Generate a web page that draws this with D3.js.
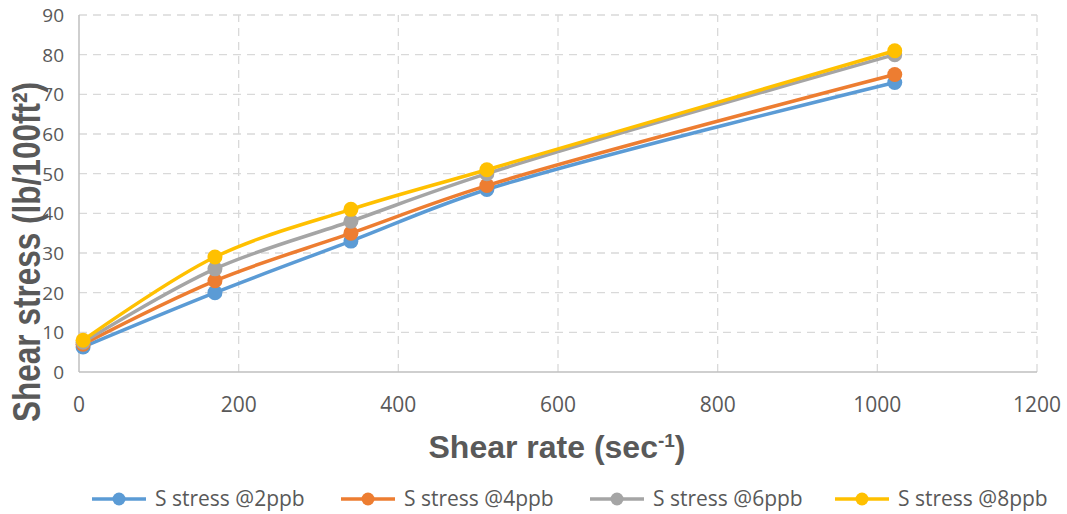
<!DOCTYPE html>
<html>
<head>
<meta charset="utf-8">
<script src="https://cdn.jsdelivr.net/npm/d3@7"></script>
<style>
  body { margin: 0; background: #fff; }
  svg text { fill: #595959; }
</style>
</head>
<body>
<div id="chart"></div>
<script>
// shear rates (sec-1) at 3, 100, 200, 300, 600 rpm
const shearRates = [5.11, 170.3, 340.6, 510.9, 1021.8];
const seriesNames = ["S stress @2ppb", "S stress @4ppb", "S stress @6ppb", "S stress @8ppb"];
const stress2ppb = [6.3, 20, 33, 46, 73];
const stress4ppb = [7, 23, 35, 47, 75];
const stress6ppb = [7.5, 26, 38, 50, 80];
const stress8ppb = [8, 29, 41, 51, 81];
const seriesColors = ["#5B9BD5", "#ED7D31", "#A5A5A5", "#FFC000"];
const xTicks = [0, 200, 400, 600, 800, 1000, 1200];
const yTicks = [0, 10, 20, 30, 40, 50, 60, 70, 80, 90];

const allSeries = [stress2ppb, stress4ppb, stress6ppb, stress8ppb];

const width = 1067, height = 514;
const margin = {left: 79, right: 30, top: 15, bottom: 142};

const svg = d3.select("#chart").append("svg")
    .attr("width", width)
    .attr("height", height);

const x = d3.scaleLinear().domain([0, 1200]).range([margin.left, width - margin.right]);
const y = d3.scaleLinear().domain([0, 90]).range([height - margin.bottom, margin.top]);

// gridlines
const grid = svg.append("g").attr("class", "grid");
grid.selectAll("line.h")
    .data(yTicks.filter(d => d > 0))
    .enter().append("line")
    .attr("x1", x(0)).attr("x2", x(1200))
    .attr("y1", d => y(d)).attr("y2", d => y(d))
    .attr("stroke", "#d9d9d9").attr("stroke-width", 1.3)
    .attr("stroke-dasharray", "8,6");
grid.selectAll("line.v")
    .data(xTicks.filter(d => d > 0))
    .enter().append("line")
    .attr("x1", d => x(d)).attr("x2", d => x(d))
    .attr("y1", y(0)).attr("y2", y(90))
    .attr("stroke", "#d9d9d9").attr("stroke-width", 1.3)
    .attr("stroke-dasharray", "8,6");

// axis lines
svg.append("line")
    .attr("x1", x(0)).attr("x2", x(0)).attr("y1", y(0)).attr("y2", y(90))
    .attr("stroke", "#bfbfbf").attr("stroke-width", 1.5);
svg.append("line")
    .attr("x1", x(0)).attr("x2", x(1200)).attr("y1", y(0)).attr("y2", y(0))
    .attr("stroke", "#bfbfbf").attr("stroke-width", 1.5);

// tick labels
svg.append("g").selectAll("text")
    .data(yTicks)
    .enter().append("text")
    .attr("x", x(0) - 15)
    .attr("y", d => y(d))
    .attr("dy", "0.36em")
    .attr("text-anchor", "end")
    .style("font-family", "'Open Sans', sans-serif")
    .style("font-size", "19px")
    .text(d => d);

svg.append("g").selectAll("text")
    .data(xTicks)
    .enter().append("text")
    .attr("x", d => x(d))
    .attr("y", y(0) + 40)
    .attr("text-anchor", "middle")
    .style("font-family", "'Open Sans', sans-serif")
    .style("font-size", "21px")
    .text(d => d);

// axis titles
const xTitle = svg.append("text")
    .attr("x", 557)
    .attr("y", 458)
    .attr("text-anchor", "middle")
    .style("font-family", "'Liberation Sans', Arial, sans-serif")
    .style("font-weight", "bold")
    .style("font-size", "32px");
xTitle.append("tspan").text("Shear rate (sec");
xTitle.append("tspan").attr("dy", -11).style("font-size", "19px").text("-1");
xTitle.append("tspan").attr("dy", 11).text(")");

svg.append("text")
    .attr("transform", "translate(40,252) rotate(-90)")
    .attr("text-anchor", "middle")
    .attr("textLength", 340)
    .attr("lengthAdjust", "spacingAndGlyphs")
    .style("font-family", "'Liberation Sans', Arial, sans-serif")
    .style("font-weight", "bold")
    .style("font-size", "38px")
    .text("Shear stress (lb/100ft²)");

// series
const line = d3.line()
    .x((d, i) => x(shearRates[i]))
    .y(d => y(d))
    .curve(d3.curveCatmullRom.alpha(0.5));

allSeries.forEach((vals, k) => {
    const g = svg.append("g").attr("class", "series");
    g.append("path")
        .attr("d", line(vals))
        .attr("fill", "none")
        .attr("stroke", seriesColors[k])
        .attr("stroke-width", 3.5)
        .attr("stroke-linejoin", "round");
    g.selectAll("circle")
        .data(vals)
        .enter().append("circle")
        .attr("cx", (d, i) => x(shearRates[i]))
        .attr("cy", d => y(d))
        .attr("r", 7.5)
        .attr("fill", seriesColors[k]);
});

// legend
const legendX = [92, 341, 590, 835];
const legend = svg.append("g").attr("class", "legend");
seriesNames.forEach((name, k) => {
    const lg = legend.append("g").attr("transform", "translate(" + legendX[k] + ",499)");
    lg.append("line")
        .attr("x1", 0).attr("x2", 54)
        .attr("stroke", seriesColors[k]).attr("stroke-width", 3.5);
    lg.append("circle").attr("cx", 27).attr("r", 6.5).attr("fill", seriesColors[k]);
    lg.append("text")
        .attr("x", 63)
        .attr("dy", "0.35em")
        .style("font-family", "'Open Sans', sans-serif")
        .style("font-size", "21px")
        .text(name);
});
</script>
</body>
</html>
